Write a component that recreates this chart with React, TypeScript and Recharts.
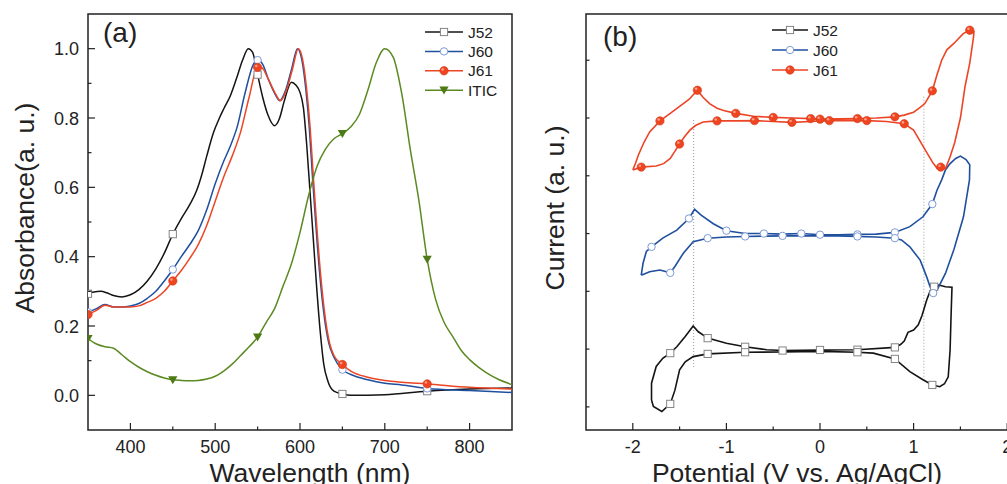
import React from "react";
import { LineChart, Line, XAxis, YAxis, ReferenceArea, ReferenceLine } from "recharts";

const FONT = "'Liberation Sans', Arial, sans-serif";
const INK = "#222";

// (a) absorbance spectra: [wavelength (nm), absorbance]
const j52Abs = [
  [350, 0.293], [357, 0.298], [365, 0.3], [372, 0.296], [380, 0.288], [390, 0.284], [400, 0.29],
  [410, 0.305], [420, 0.33], [430, 0.365], [440, 0.41], [450, 0.465], [460, 0.51], [470, 0.55],
  [478, 0.59], [484, 0.635], [490, 0.69], [498, 0.758], [505, 0.8], [510, 0.826], [518, 0.865],
  [525, 0.913], [532, 0.965], [539, 1.0], [544, 0.99], [550, 0.925], [556, 0.86], [562, 0.81],
  [570, 0.778], [576, 0.8], [581, 0.845], [590, 0.903], [595, 0.895], [600, 0.874], [604, 0.83],
  [608, 0.72], [612, 0.58], [616, 0.44], [620, 0.3], [624, 0.18], [628, 0.09], [633, 0.04],
  [640, 0.012], [650, 0.004], [660, 0.0], [700, 0.002], [750, 0.012], [800, 0.018], [850, 0.021],
];
const j60Abs = [
  [350, 0.24], [360, 0.25], [370, 0.262], [380, 0.255], [390, 0.255], [400, 0.258], [410, 0.265],
  [420, 0.28], [430, 0.3], [440, 0.33], [450, 0.363], [460, 0.4], [470, 0.435], [480, 0.475],
  [490, 0.535], [500, 0.61], [510, 0.675], [518, 0.72], [526, 0.775], [535, 0.87], [545, 0.955],
  [550, 0.967], [556, 0.955], [563, 0.91], [570, 0.872], [576, 0.85], [583, 0.88], [590, 0.94],
  [597, 1.0], [602, 0.97], [607, 0.88], [611, 0.77], [615, 0.62], [619, 0.48], [624, 0.33],
  [629, 0.22], [634, 0.15], [640, 0.11], [650, 0.074], [660, 0.06], [680, 0.045], [700, 0.035],
  [720, 0.03], [750, 0.02], [800, 0.014], [850, 0.008],
];
const j61Abs = [
  [350, 0.233], [360, 0.245], [370, 0.26], [380, 0.255], [390, 0.255], [400, 0.255], [410, 0.258],
  [420, 0.268], [430, 0.28], [440, 0.3], [450, 0.33], [460, 0.36], [470, 0.395], [480, 0.435],
  [490, 0.49], [500, 0.56], [510, 0.63], [520, 0.69], [530, 0.76], [540, 0.86], [550, 0.946],
  [555, 0.945], [562, 0.915], [570, 0.875], [577, 0.85], [584, 0.88], [591, 0.94], [598, 1.0],
  [603, 0.97], [608, 0.88], [612, 0.77], [616, 0.62], [620, 0.48], [625, 0.33], [630, 0.22],
  [635, 0.15], [640, 0.115], [650, 0.089], [660, 0.07], [680, 0.052], [700, 0.043], [720, 0.038],
  [750, 0.033], [800, 0.023], [850, 0.018],
];
const iticAbs = [
  [350, 0.164], [360, 0.148], [370, 0.14], [380, 0.136], [390, 0.117], [400, 0.097], [410, 0.081],
  [420, 0.068], [430, 0.058], [440, 0.05], [450, 0.045], [460, 0.043], [470, 0.042], [480, 0.043],
  [490, 0.047], [500, 0.055], [510, 0.07], [520, 0.09], [530, 0.115], [540, 0.14], [550, 0.168],
  [560, 0.21], [570, 0.25], [580, 0.315], [590, 0.38], [600, 0.47], [610, 0.575], [620, 0.66],
  [630, 0.71], [640, 0.74], [650, 0.755], [660, 0.775], [670, 0.81], [680, 0.88], [690, 0.96],
  [700, 1.0], [710, 0.975], [720, 0.87], [730, 0.71], [740, 0.565], [750, 0.392], [760, 0.276],
  [770, 0.21], [780, 0.17], [790, 0.13], [800, 0.103], [810, 0.082], [820, 0.065], [835, 0.045],
  [850, 0.031],
];
const absMarkers = [350, 450, 550, 650, 750];
const absXTicks = [400, 450, 500, 550, 600, 650, 700, 750, 800];
const absYTicks = [0, 0.1, 0.2, 0.3, 0.4, 0.5, 0.6, 0.7, 0.8, 0.9, 1.0];

// (b) cyclic voltammograms: [potential (V), current (a.u., offset), marker]
const j52Cv = [
  [-1.8, 0.12], [-1.8, 0.41], [-1.75, 0.7], [-1.68, 0.84], [-1.6, 0.93, 1], [-1.53, 1.04],
  [-1.44, 1.22], [-1.355, 1.4], [-1.3, 1.3], [-1.2, 1.19, 1], [-1.0, 1.1], [-0.8, 1.04, 1],
  [-0.57, 0.99], [-0.4, 0.975, 1], [0.0, 0.985, 1], [0.4, 0.99, 1], [0.8, 1.03, 1], [0.86, 1.08],
  [0.9, 1.14], [0.94, 1.29], [1.0, 1.33], [1.05, 1.42], [1.09, 1.58], [1.14, 1.85], [1.18, 2.02],
  [1.22, 2.08, 1], [1.27, 2.11], [1.34, 2.08], [1.41, 2.07], [1.4, 1.56], [1.39, 0.99],
  [1.37, 0.52], [1.33, 0.4], [1.28, 0.35], [1.2, 0.38, 1], [1.1, 0.47], [0.96, 0.61],
  [0.8, 0.83, 1], [0.57, 0.93], [0.4, 0.946, 1], [0.0, 0.96], [-0.4, 0.95], [-0.8, 0.946, 1],
  [-1.2, 0.917, 1], [-1.355, 0.87], [-1.44, 0.78], [-1.5, 0.64], [-1.55, 0.29], [-1.6, 0.052, 1],
  [-1.69, -0.08], [-1.78, 0.006], [-1.8, 0.12],
];
const j60Cv = [
  [-1.91, 2.28], [-1.89, 2.49], [-1.855, 2.69], [-1.8, 2.77, 1], [-1.68, 2.92], [-1.53, 3.06],
  [-1.4, 3.26, 1], [-1.34, 3.42], [-1.27, 3.32], [-1.14, 3.17], [-1.0, 3.05, 1], [-0.8, 3.0],
  [-0.6, 3.0, 1], [-0.4, 2.99], [-0.2, 3.0, 1], [0.0, 2.98, 1], [0.2, 2.98], [0.4, 2.985, 1],
  [0.6, 2.99], [0.8, 3.02, 1], [0.96, 3.12], [1.1, 3.29], [1.2, 3.51, 1], [1.25, 3.75],
  [1.3, 3.93], [1.34, 4.1], [1.39, 4.21], [1.45, 4.3], [1.5, 4.34], [1.56, 4.28], [1.6, 4.19],
  [1.597, 3.93], [1.533, 3.29], [1.43, 2.72], [1.34, 2.31], [1.25, 2.02], [1.21, 1.97, 1],
  [1.176, 2.08], [1.14, 2.25], [1.07, 2.54], [0.96, 2.77], [0.87, 2.89], [0.8, 2.92, 1],
  [0.6, 2.94], [0.4, 2.95, 1], [0.2, 2.96], [0.0, 2.965], [-0.2, 2.96], [-0.4, 2.96, 1],
  [-0.6, 2.955], [-0.8, 2.95, 1], [-1.0, 2.94], [-1.2, 2.92, 1], [-1.355, 2.86], [-1.46, 2.66],
  [-1.55, 2.43], [-1.6, 2.32, 1], [-1.71, 2.37], [-1.82, 2.34], [-1.91, 2.28],
];
const j61Cv = [
  [-2.0, 4.1], [-1.97, 4.22], [-1.94, 4.36], [-1.88, 4.58], [-1.82, 4.76], [-1.71, 4.95, 1],
  [-1.6, 5.08], [-1.5, 5.2], [-1.4, 5.32], [-1.31, 5.48, 1], [-1.25, 5.36], [-1.18, 5.25],
  [-1.1, 5.17], [-1.03, 5.13], [-0.9, 5.08, 1], [-0.71, 5.03], [-0.5, 5.01, 1], [-0.3, 5.0],
  [-0.1, 4.99, 1], [0.0, 4.98, 1], [0.2, 4.985], [0.4, 4.99, 1], [0.6, 5.0], [0.8, 5.02, 1],
  [0.9, 5.05], [1.0, 5.1], [1.06, 5.17], [1.12, 5.25], [1.2, 5.47, 1], [1.25, 5.75],
  [1.3, 6.0], [1.355, 6.18], [1.43, 6.29], [1.53, 6.46], [1.6, 6.52, 1], [1.645, 6.5],
  [1.64, 6.4], [1.6, 5.95], [1.55, 5.55], [1.5, 5.0], [1.44, 4.58], [1.39, 4.33], [1.34, 4.12],
  [1.29, 4.15, 1], [1.25, 4.13], [1.2, 4.24], [1.105, 4.5], [1.0, 4.79], [0.9, 4.9, 1],
  [0.71, 4.94], [0.5, 4.955, 1], [0.3, 4.955], [0.1, 4.955, 1], [-0.1, 4.94], [-0.3, 4.925, 1],
  [-0.5, 4.94], [-0.7, 4.955, 1], [-0.9, 4.95], [-1.1, 4.95, 1], [-1.25, 4.93], [-1.33, 4.87],
  [-1.39, 4.79], [-1.45, 4.67], [-1.5, 4.55, 1], [-1.56, 4.4], [-1.6, 4.3], [-1.67, 4.21],
  [-1.75, 4.17], [-1.91, 4.15, 1], [-2.0, 4.1],
];
const cvXTicks = [-2, -1.5, -1, -0.5, 0, 0.5, 1, 1.5, 2];
const cvYTicks = [0, 1, 2, 3, 4, 5, 6];
const onsets = [
  { v: -1.35, from: 0.69, to: 5.0 },
  { v: 1.11, from: 0.47, to: 5.4 },
];

type Shape = "square" | "open" | "ball" | "tri";
const SERIES: Record<string, { color: string; shape: Shape }> = {
  J52: { color: "#141414", shape: "square" },
  J60: { color: "#1f4f9e", shape: "open" },
  J61: { color: "#ec4526", shape: "ball" },
  ITIC: { color: "#5b8a22", shape: "tri" },
};

function Marker({ shape, cx, cy }: { shape: Shape; cx: number; cy: number }) {
  if (shape === "square")
    return <rect x={cx - 3.6} y={cy - 3.6} width={7.2} height={7.2} fill="#fff" stroke="#858585" strokeWidth={1} />;
  if (shape === "open") return <circle cx={cx} cy={cy} r={3.7} fill="#fff" stroke="#7d9bd6" strokeWidth={1} />;
  if (shape === "ball")
    return (
      <g>
        <circle cx={cx} cy={cy} r={4.2} fill="#ee4420" stroke="#d5381a" strokeWidth={0.6} />
        <circle cx={cx - 1.3} cy={cy - 1.4} r={1.3} fill="#ffb4a0" opacity={0.8} />
      </g>
    );
  return <path d={`M${cx - 4.6},${cy - 3.6}L${cx + 4.6},${cy - 3.6}L${cx},${cy + 4.4}Z`} fill="#4d7a14" />;
}

const absDot = (shape: Shape) => (p: any) => {
  const show = absMarkers.includes(p.payload.w);
  return <g key={p.index}>{show && <Marker shape={shape} cx={p.cx} cy={p.cy} />}</g>;
};
const cvDot = (shape: Shape) => (p: any) => (
  <g key={p.index}>{p.payload.m ? <Marker shape={shape} cx={p.cx} cy={p.cy} /> : null}</g>
);

function XTick({ x, y, payload, isMajor }: any) {
  const v = payload.value;
  const major = isMajor(v);
  return (
    <g>
      <line x1={x} x2={x} y1={y} y2={y - (major ? 7 : 3.5)} stroke={INK} strokeWidth={1.2} />
      {major && (
        <text x={x} y={y + 23} textAnchor="middle" fontSize={18} fontFamily={FONT} fill={INK}>
          {v}
        </text>
      )}
    </g>
  );
}

function YTick({ x, y, payload, isMajor, label }: any) {
  const v = payload.value;
  const major = isMajor(v);
  return (
    <g>
      <line x1={x} x2={x + (major ? 7 : 3.5)} y1={y} y2={y} stroke={INK} strokeWidth={1.2} />
      {major && label && (
        <text x={x - 9} y={y + 6.5} textAnchor="end" fontSize={18} fontFamily={FONT} fill={INK}>
          {label(v)}
        </text>
      )}
    </g>
  );
}

const toAbs = (arr: number[][]) => arr.map(([w, a]) => ({ w, a }));
const toCv = (arr: number[][]) => arr.map(([v, i, m]) => ({ v, i, m: m || 0 }));

function AbsorbanceChart() {
  const lines: [string, number[][]][] = [
    ["J52", j52Abs],
    ["J60", j60Abs],
    ["J61", j61Abs],
    ["ITIC", iticAbs],
  ];
  return (
    <LineChart width={520} height={484} margin={{ top: 14, right: 8, bottom: 24, left: 28 }}>
      <XAxis
        dataKey="w"
        type="number"
        domain={[350, 850]}
        allowDataOverflow
        ticks={absXTicks}
        interval={0}
        axisLine={false}
        tickLine={false}
        tickSize={0}
        tickMargin={0}
        tick={(p: any) => <XTick {...p} isMajor={(v: number) => v % 100 === 0} />}
      />
      <YAxis
        type="number"
        domain={[-0.1, 1.1]}
        allowDataOverflow
        ticks={absYTicks}
        interval={0}
        axisLine={false}
        tickLine={false}
        tickSize={0}
        tickMargin={0}
        tick={(p: any) => (
          <YTick
            {...p}
            isMajor={(v: number) => Math.round(v * 10) % 2 === 0}
            label={(v: number) => v.toFixed(1)}
          />
        )}
      />
      <ReferenceArea x1={350} x2={850} y1={-0.1} y2={1.1} fill="none" stroke={INK} strokeWidth={1.5} ifOverflow="visible" />
      {lines.map(([name, arr]) => (
        <Line
          key={name}
          data={toAbs(arr)}
          dataKey="a"
          type="monotone"
          stroke={SERIES[name].color}
          strokeWidth={1.5}
          dot={absDot(SERIES[name].shape)}
          activeDot={false}
          isAnimationActive={false}
        />
      ))}
    </LineChart>
  );
}

function CvChart() {
  const lines: [string, number[][]][] = [
    ["J52", j52Cv],
    ["J60", j60Cv],
    ["J61", j61Cv],
  ];
  return (
    <LineChart width={540} height={484} margin={{ top: 14, right: 6, bottom: 24, left: 6 }}>
      <XAxis
        dataKey="v"
        type="number"
        domain={[-2.5, 2.5]}
        allowDataOverflow
        ticks={cvXTicks}
        interval={0}
        axisLine={false}
        tickLine={false}
        tickSize={0}
        tickMargin={0}
        tick={(p: any) => <XTick {...p} isMajor={(v: number) => Number.isInteger(v)} />}
      />
      <YAxis
        type="number"
        domain={[-0.4, 6.8]}
        allowDataOverflow
        ticks={cvYTicks}
        interval={0}
        axisLine={false}
        tickLine={false}
        tickSize={0}
        tickMargin={0}
        tick={(p: any) => <YTick {...p} isMajor={() => false} />}
      />
      <ReferenceArea x1={-2.5} x2={2.5} y1={-0.4} y2={6.8} fill="none" stroke={INK} strokeWidth={1.5} ifOverflow="visible" />
      {onsets.map((o) => (
        <ReferenceLine
          key={o.v}
          segment={[
            { x: o.v, y: o.from },
            { x: o.v, y: o.to },
          ]}
          stroke="#9a9a9a"
          strokeWidth={1}
          strokeDasharray="1 2"
        />
      ))}
      {lines.map(([name, arr]) => (
        <Line
          key={name}
          data={toCv(arr)}
          dataKey="i"
          type="linear"
          stroke={SERIES[name].color}
          strokeWidth={1.6}
          dot={cvDot(SERIES[name].shape)}
          activeDot={false}
          isAnimationActive={false}
        />
      ))}
    </LineChart>
  );
}

function LegendRow({ name, y, x0, x1 }: { name: string; y: number; x0: number; x1: number }) {
  const s = SERIES[name];
  return (
    <g>
      <line x1={x0} x2={x1} y1={y} y2={y} stroke={s.color} strokeWidth={1.5} />
      <Marker shape={s.shape} cx={(x0 + x1) / 2} cy={y} />
      <text x={x1 + 5} y={y + 5.5} fontSize={15.5} fontFamily={FONT} fill={INK}>
        {name}
      </text>
    </g>
  );
}

function Overlay() {
  return (
    <svg width={1007} height={484} style={{ position: "absolute", left: 0, top: 0, pointerEvents: "none" }}>
      <text x={103} y={42} fontSize={28} fontFamily={FONT} fill={INK}>(a)</text>
      <text x={603} y={46} fontSize={28} fontFamily={FONT} fill={INK}>(b)</text>
      <text transform="translate(34,208) rotate(-90)" textAnchor="middle" fontSize={26.5} fontFamily={FONT} fill={INK}>
        Absorbance(a. u.)
      </text>
      <text transform="translate(564,208) rotate(-90)" textAnchor="middle" fontSize={26.5} fontFamily={FONT} fill={INK}>
        Current (a. u.)
      </text>
      <text x={310} y={482} textAnchor="middle" fontSize={26.5} fontFamily={FONT} fill={INK}>
        Wavelength (nm)
      </text>
      <text x={797} y={482} textAnchor="middle" fontSize={26.5} fontFamily={FONT} fill={INK}>
        Potential (V vs. Ag/AgCl)
      </text>
      {["J52", "J60", "J61", "ITIC"].map((n, i) => (
        <LegendRow key={n} name={n} y={32 + i * 19.4} x0={425} x1={463} />
      ))}
      {["J52", "J60", "J61"].map((n, i) => (
        <LegendRow key={n} name={n} y={30 + i * 20} x0={772} x1={808} />
      ))}
    </svg>
  );
}

export default function App() {
  return (
    <div style={{ position: "absolute", left: 0, top: 0, width: 1007, height: 484, overflow: "hidden", background: "#fff" }}>
      <div style={{ position: "absolute", left: 0, top: 0 }}>
        <AbsorbanceChart />
      </div>
      <div style={{ position: "absolute", left: 520, top: 0 }}>
        <CvChart />
      </div>
      <Overlay />
    </div>
  );
}
